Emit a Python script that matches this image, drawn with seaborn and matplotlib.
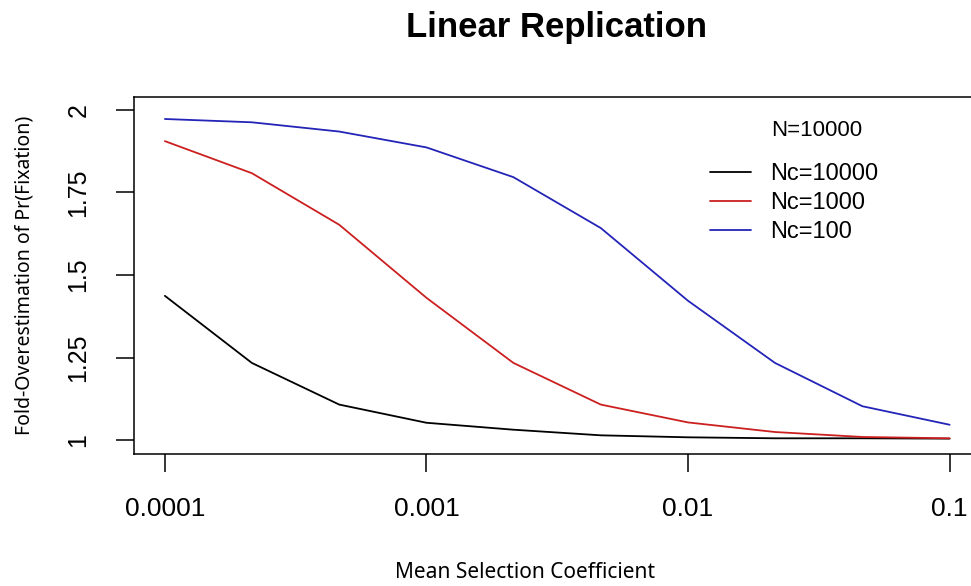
import pandas as pd
import matplotlib
matplotlib.use('Agg')
import matplotlib.pyplot as plt
from matplotlib.lines import Line2D
from matplotlib import font_manager
import seaborn as sns

sns.set_style('ticks')
plt.rcParams['text.color'] = 'black'
plt.rcParams['axes.labelcolor'] = 'black'

# values (3 points per decade)
sel_coef = [0.0001, 0.000215, 0.000464, 0.001, 0.00215, 0.00464, 0.01, 0.0215, 0.0464, 0.1]
nc_10000 = [1.437, 1.234, 1.108, 1.053, 1.032, 1.015, 1.009, 1.006, 1.006, 1.005]
nc_1000 = [1.905, 1.808, 1.652, 1.431, 1.234, 1.108, 1.054, 1.025, 1.010, 1.006]
nc_100 = [1.972, 1.962, 1.934, 1.886, 1.796, 1.642, 1.422, 1.234, 1.103, 1.047]

series = ['Nc=10000', 'Nc=1000', 'Nc=100']
colors = ['#000000', '#cc2020', '#2424b8']
x_ticks = [0.0001, 0.001, 0.01, 0.1]
x_ticklabels = ['0.0001', '0.001', '0.01', '0.1']
y_ticks = [1, 1.25, 1.5, 1.75, 2]
y_ticklabels = ['1', '1.25', '1.5', '1.75', '2']

df = pd.DataFrame({
    's': sel_coef * 3,
    'fold': nc_10000 + nc_1000 + nc_100,
    'Nc': [series[0]] * len(sel_coef) + [series[1]] * len(sel_coef) + [series[2]] * len(sel_coef),
})

names = {f.name for f in font_manager.fontManager.ttflist}
tick_font = 'Liberation Sans Narrow' if 'Liberation Sans Narrow' in names else 'Liberation Sans'
tick_size = 21 if tick_font == 'Liberation Sans Narrow' else 19

fig = plt.figure(figsize=(9.71, 5.86), dpi=100)
ax = fig.add_axes([0.1375, 0.2261, 0.8728, 0.6092])

sns.lineplot(data=df, x='s', y='fold', hue='Nc', hue_order=series, palette=colors,
             linewidth=1.3, legend=False, sort=False, ax=ax)

ax.set_xscale('log')
ax.set_xlim(10 ** -4.12, 10 ** -0.88)
ax.set_ylim(0.96, 2.04)
ax.set_xticks(x_ticks)
ax.set_xticklabels(x_ticklabels, family=tick_font, fontsize=tick_size)
ax.xaxis.set_minor_locator(matplotlib.ticker.NullLocator())
ax.set_yticks(y_ticks)
ax.set_yticklabels(y_ticklabels, family=tick_font, fontsize=tick_size - 1, rotation=90)
for lab in ax.get_yticklabels():
    lab.set_va('center')
ax.tick_params(axis='x', length=13, width=1.1, pad=18, colors='black')
ax.tick_params(axis='y', length=13, width=1.1, pad=18, colors='black')
for sp in ax.spines.values():
    sp.set_visible(True)
    sp.set_linewidth(1.1)
    sp.set_color('black')

ax.set_xlabel('Mean Selection Coefficient', family='Noto Sans', fontsize=15, va='center', color='black')
ax.xaxis.set_label_coords(0.4625, -0.332)
ax.set_ylabel('Fold-Overestimation of Pr(Fixation)', family='Noto Sans', fontsize=14, va='center', color='black')
ax.yaxis.set_label_coords(-0.129, 0.5)

fig.text(0.5736, 1 - 28 / 586, 'Linear Replication', ha='center', va='center',
         family='Liberation Sans', fontweight='bold', fontsize=25)

# legend title sits apart from the entries, as in the R legend
fig.text(817 / 971, 1 - 130 / 586, 'N=10000', ha='center', va='center',
         family='Liberation Sans', fontsize=16)
handles = [Line2D([0], [0], color=c, lw=1.3) for c in colors]
ax.legend(handles, series, loc='upper left',
          bbox_to_anchor=(710 / 971, 1 - 163 / 586), bbox_transform=fig.transFigure,
          frameon=False, borderpad=0, borderaxespad=0, handlelength=1.75, handletextpad=0.8,
          labelspacing=0.3, prop={'family': 'Liberation Sans', 'size': 17})

fig.savefig('out.png', dpi=100)
